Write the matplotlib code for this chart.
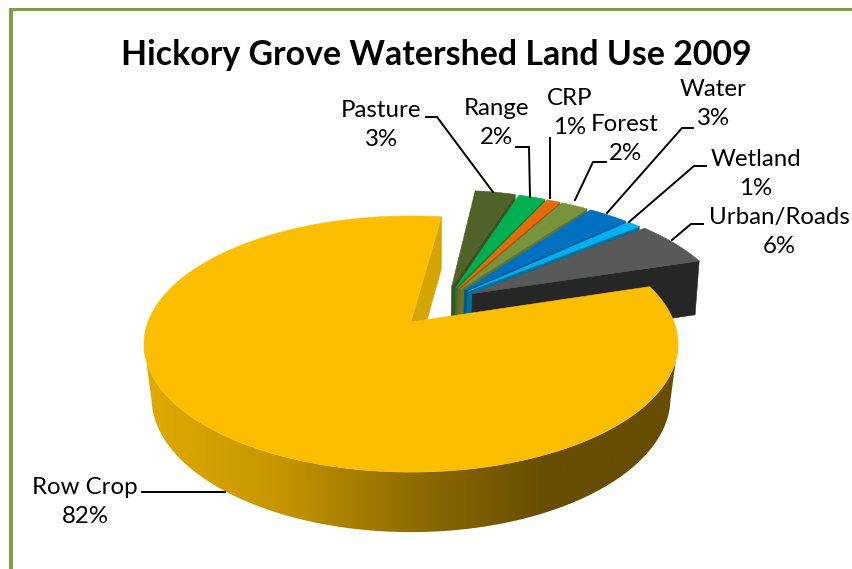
import matplotlib
matplotlib.use("Agg")
import matplotlib.pyplot as plt
from matplotlib.colors import LinearSegmentedColormap
from matplotlib.patches import Polygon, Rectangle
import numpy as np

plt.rcParams['font.family'] = ['Lato', 'DejaVu Sans']

title = "Hickory Grove Watershed Land Use 2009"
names = ["Row Crop", "Pasture", "Range", "CRP", "Forest", "Water", "Wetland", "Urban/Roads"]
percents = [82, 3, 2, 1, 2, 3, 1, 6]

top_colors = ["#FCBE00", "#4F6228", "#00B050", "#E36C0A", "#77933C", "#0070C0", "#00B0F0", "#595959"]
side_colors = ["#D4A500", "#3F4F20", "#008A3E", "#A85208", "#5F7630", "#00558F", "#00709A", "#262626"]

label_xy = [(85, 502), (381, 125), (496, 123), (570, 113), (625, 139), (713, 104), (756, 174), (779, 232)]
leaders = [
    [(142, 492), (225, 492)],
    [(426, 117), (437, 117), (493, 192)],
    [(516, 147), (529, 147), (530, 197)],
    [(550, 138), (550, 198)],
    [(606, 162), (593, 162), (575, 200)],
    [(693, 128), (682, 128), (607, 213)],
    [(706, 166), (694, 166), (629, 222)],
    [(703, 224), (691, 224), (672, 240)],
]

# pie plane -> pixels, x to the right and d towards the back
cx, cy = 411.0, 322.0
R = 263.0
persp = 0.172
tilt = -68.9
start_angle = 72.6
expl = 0.34
group_mid = 40.2


def project(x, d, low=False):
    x = np.atleast_1d(np.asarray(x, dtype=float))
    d = np.atleast_1d(np.asarray(d, dtype=float))
    s = 1 + persp * d
    px = R * x / s
    py = (tilt * d + cy) / s
    if low:
        # bottom face sits a bit narrower and the wall is taller towards the front
        return np.column_stack([cx + px * (0.975 + 0.02 * np.clip(d, -1, 1)), py + 56 - 4 * d])
    return np.column_stack([cx + px, py])


def arc(a0, a1, off=(0, 0), n=80):
    t = np.radians(np.linspace(a0, a1, n))
    return np.sin(t) + off[0], np.cos(t) + off[1]


def end_face(a, off=(0, 0)):
    ex = np.sin(np.radians(a)) + off[0]
    ed = np.cos(np.radians(a)) + off[1]
    return np.vstack([project(off[0], off[1]), project(ex, ed),
                      project(ex, ed, True), project(off[0], off[1], True)])


fig = plt.figure(figsize=(8.52, 5.69), dpi=100)
ax = fig.add_axes([0, 0, 1, 1])

# frame, only top and left are on the page
frame = "#7F9F3F"
ax.add_patch(Rectangle((9, 8), 843, 3, color=frame, lw=0))
ax.add_patch(Rectangle((9, 8), 4, 561, color=frame, lw=0))

spans = np.array(percents) * 3.6
starts = start_angle + np.concatenate([[0], np.cumsum(spans)[:-1]])

# small slices first, in order, so each one covers the side of the one before
for i in range(1, len(percents)):
    a0 = starts[i] % 360
    a1 = a0 + spans[i]
    mid = (a0 + a1) / 2
    direction = np.radians(38.0 + 0.35 * (mid - group_mid))
    off = (expl * np.sin(direction), expl * np.cos(direction))
    ax.add_patch(Polygon(end_face(a1, off), closed=True, fc=side_colors[i], ec=side_colors[i], lw=0.4))
    sx, sd = arc(a0, a1, off)
    top = np.vstack([project(off[0], off[1]), project(sx, sd)])
    ax.add_patch(Polygon(top, closed=True, fc=top_colors[i], ec=top_colors[i], lw=0.4))

# big slice: cut face at its far end
a0 = starts[0]
a1 = a0 + spans[0]
ax.add_patch(Polygon(end_face(a1), closed=True, fc=side_colors[0], ec=side_colors[0], lw=0.4))

# outer wall with the shading running left to right
edge = np.degrees(np.arccos(-persp))
wx, wd = arc(edge, 360 - edge, n=200)
wall = np.vstack([project(wx, wd), project(wx, wd, True)[::-1]])
wall_patch = Polygon(wall, closed=True, fc="none", ec="none")
ax.add_patch(wall_patch)
shade = LinearSegmentedColormap.from_list("wall", ["#E2AB00", "#C79600", "#8F6C00", "#664D00", "#664D00"])
ramp = np.linspace(0, 1, 256)[None, :]
img = ax.imshow(ramp, cmap=shade, extent=(140, 685, 560, 300), aspect="auto", zorder=1.5)
img.set_clip_path(wall_patch)

tx, td = arc(a0, a1, n=300)
top = np.vstack([project(0, 0), project(tx, td)])
ax.add_patch(Polygon(top, closed=True, fc=top_colors[0], ec=top_colors[0], lw=0.4, zorder=2))

for pts in leaders:
    xs, ys = zip(*pts)
    ax.plot(xs, ys, color="black", lw=1.4, solid_joinstyle="miter", zorder=3)

for name, pct, (lx, ly) in zip(names, percents, label_xy):
    ax.text(lx, ly, f"{name}\n{pct}%", ha="center", va="center", fontsize=17.3,
            linespacing=1.42, color="black", zorder=4)

ax.text(436, 55, title, ha="center", va="center", fontsize=24.4, fontweight="bold", color="black", zorder=4)

ax.set_xlim(0, 852)
ax.set_ylim(569, 0)
ax.axis("off")
fig.savefig("out.png", dpi=100)
